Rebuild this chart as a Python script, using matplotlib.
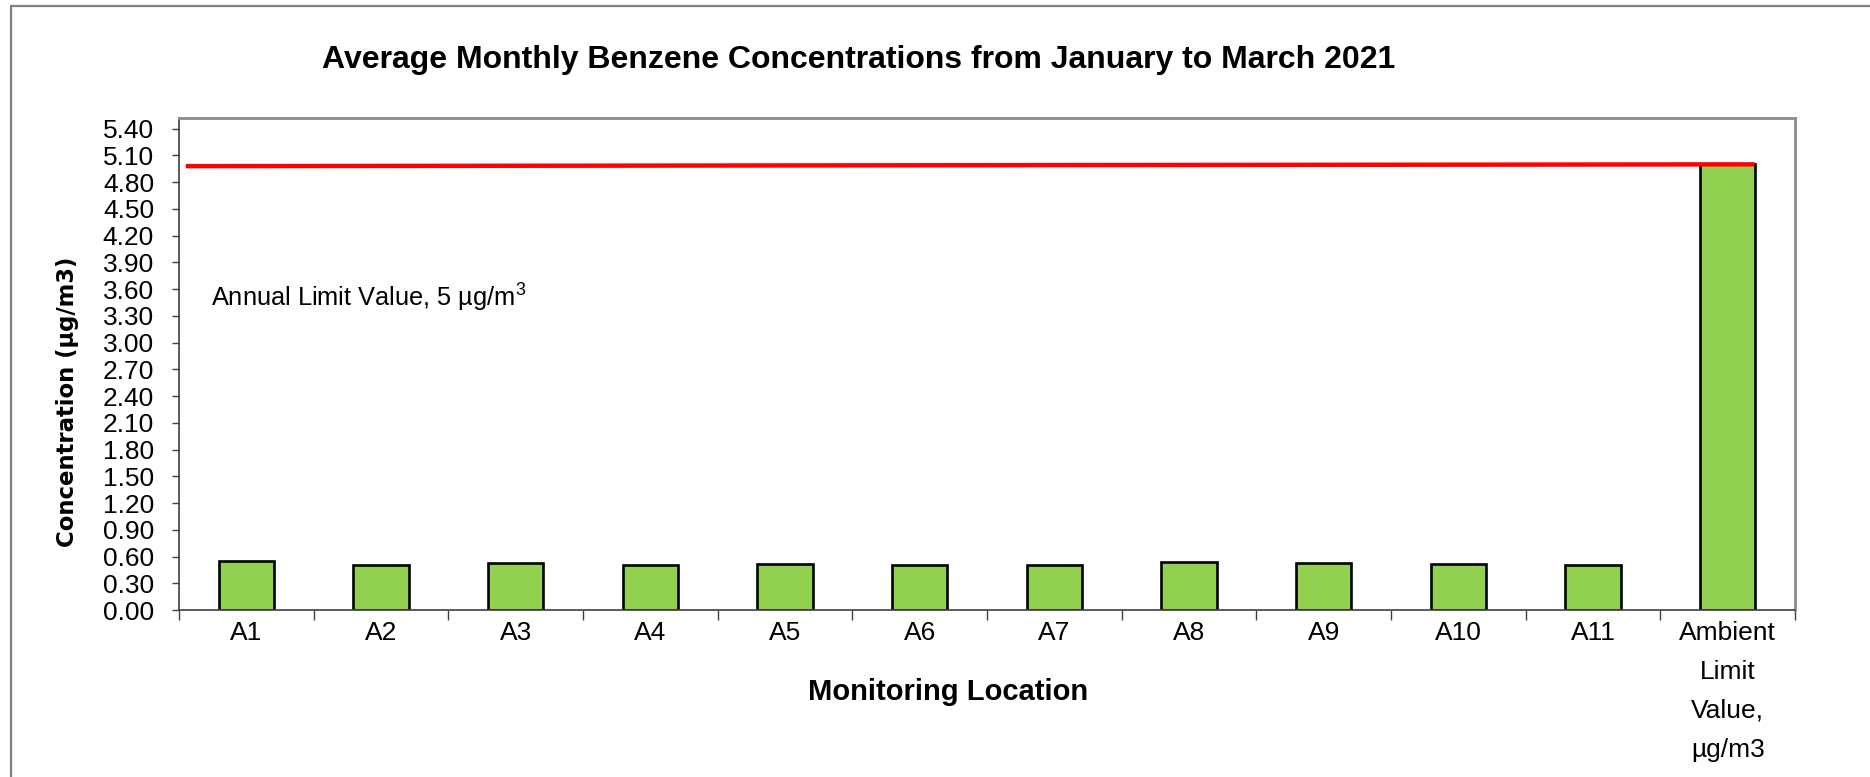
import matplotlib
matplotlib.use("Agg")
import matplotlib.pyplot as plt
from matplotlib.ticker import FixedLocator, FixedFormatter
from matplotlib.patches import Rectangle

# ---- data ----
categories = ["A1", "A2", "A3", "A4", "A5", "A6", "A7", "A8", "A9", "A10", "A11",
              "Ambient\nLimit\nValue,\nµg/m3"]
concentrations = [0.55, 0.51, 0.53, 0.51, 0.52, 0.51, 0.50, 0.54, 0.53, 0.52, 0.51, 5.00]
limit_line_x = [-0.45, 11.2]
limit_line_y = [4.98, 5.00]
y_ticks = [0.00, 0.30, 0.60, 0.90, 1.20, 1.50, 1.80, 2.10, 2.40, 2.70, 3.00,
           3.30, 3.60, 3.90, 4.20, 4.50, 4.80, 5.10, 5.40]

plt.rcParams['font.family'] = ['Liberation Sans', 'DejaVu Sans']
plt.rcParams['mathtext.fontset'] = 'custom'
plt.rcParams['mathtext.rm'] = 'Liberation Sans'
plt.rcParams['mathtext.it'] = 'Liberation Sans'

W, H = 1870, 777
fig = plt.figure(figsize=(W / 100, H / 100), dpi=100)

# outer chart-area frame (left/top visible, extends beyond right/bottom)
fig.patches.append(Rectangle((11 / W, -0.05), 1.1, 1 - 6 / H + 0.05,
                             transform=fig.transFigure, fill=False,
                             edgecolor="#808080", linewidth=1.6))

left, right, top, bottom = 179, 1795, 118, 610
ax = fig.add_axes([left / W, 1 - bottom / H, (right - left) / W, (bottom - top) / H])

x = list(range(len(categories)))
ax.bar(x, concentrations, width=0.41, color="#92D050", edgecolor="black",
       linewidth=1.9, zorder=2)
ax.plot(limit_line_x, limit_line_y, color="#FF0000", linewidth=3.2, zorder=3,
        solid_capstyle="butt")

ax.set_xlim(-0.5, len(categories) - 0.5)
ax.set_ylim(0, 5.52)

ax.yaxis.set_major_locator(FixedLocator(y_ticks))
ax.yaxis.set_major_formatter(FixedFormatter([f"{v:.2f}" for v in y_ticks]))
ax.tick_params(axis="y", which="major", length=5, width=1, color="#404040",
               labelsize=19, pad=13, labelcolor="black")

ax.set_xticks(x)
ax.set_xticklabels(categories, fontsize=19, linespacing=1.78)
ax.tick_params(axis="x", which="major", length=0, pad=8, labelcolor="black")
ax.set_xticks([i - 0.5 for i in range(len(categories) + 1)], minor=True)
ax.tick_params(axis="x", which="minor", length=7, width=1, color="#404040")

for s in ["left", "bottom"]:
    ax.spines[s].set_color("#404040")
    ax.spines[s].set_linewidth(1.2)
for s in ["top", "right"]:
    ax.spines[s].set_color("#8c8c8c")
    ax.spines[s].set_linewidth(2.0)

# texts
fig.text(859 / W, 1 - 60 / H,
         "Average Monthly Benzene Concentrations from January to March 2021",
         ha="center", va="center", fontsize=23, fontweight="bold")
fig.text(68 / W, 1 - 402 / H, "Concentration (µg/m3)", rotation=90,
         ha="center", va="center", fontsize=16.4, fontweight="bold",
         family=["DejaVu Sans"])
fig.text(948 / W, 1 - 692 / H, "Monitoring Location", ha="center", va="center",
         fontsize=21, fontweight="bold")
fig.text(211 / W, 1 - 298 / H, r"Annual Limit Value, 5 µg/m$^{3}$",
         ha="left", va="center", fontsize=18.3)

fig.savefig("out.png", dpi=100)
